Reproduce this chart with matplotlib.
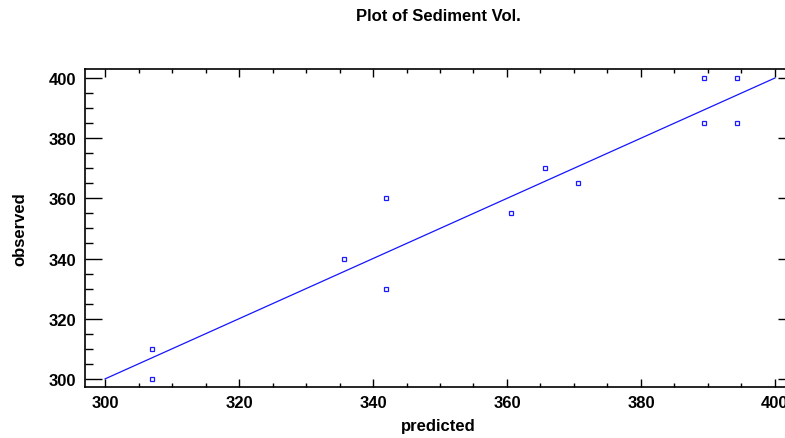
import matplotlib
matplotlib.use("Agg")
import matplotlib.pyplot as plt
from matplotlib.ticker import MultipleLocator

plt.rcParams['font.family'] = ['Liberation Sans', 'DejaVu Sans']

predicted = [307.0, 307.0, 335.7, 342.0, 342.0, 360.6, 365.7, 370.6, 389.4, 389.4, 394.4, 394.4]
observed = [310, 300, 340, 360, 330, 355, 370, 365, 400, 385, 400, 385]
line_x = [300, 400]
line_y = [300, 400]
xticks = [300, 320, 340, 360, 380, 400]
yticks = [300, 320, 340, 360, 380, 400]

W, H = 785, 439
fig = plt.figure(figsize=(W / 100, H / 100), dpi=100)
left, right, top, bottom = 85, 795, 70, 388
ax = fig.add_axes([left / W, 1 - bottom / H, (right - left) / W, (bottom - top) / H])

ax.plot(line_x, line_y, color='#1515ff', lw=0.9)
ax.plot(predicted, observed, ls='none', marker='s', ms=3.2, mfc='none', mec='#1a1aff', mew=0.9)

ax.set_xlim(297, 403)
ax.set_ylim(297.3, 403)
ax.set_xticks(xticks)
ax.set_yticks(yticks)
ax.xaxis.set_minor_locator(MultipleLocator(5))
ax.yaxis.set_minor_locator(MultipleLocator(5))

ax.tick_params(axis='x', which='major', direction='in', length=6, width=1, top=True, bottom=True,
               labelsize=12, pad=6)
ax.tick_params(axis='x', which='minor', direction='in', length=3, width=1, top=True, bottom=True)
ax.tick_params(axis='y', which='major', direction='in', length=12, width=1, left=True, right=True,
               labelsize=12, pad=6.5)
ax.tick_params(axis='y', which='minor', direction='in', length=6, width=1, left=True, right=True)
for lab in ax.get_xticklabels() + ax.get_yticklabels():
    lab.set_fontweight('bold')

for s in ax.spines.values():
    s.set_linewidth(1.2)

fig.text(438.5 / W, 1 - 431 / H, 'predicted', ha='center', va='baseline',
         fontsize=12, fontweight='bold')
fig.text(19.5 / W, 1 - 229.5 / H, 'observed', ha='center', va='center', rotation=90,
         fontsize=12, fontweight='bold')
fig.text(438.5 / W, 1 - 21 / H, 'Plot of Sediment Vol.', ha='center', va='baseline',
         fontsize=12, fontweight='bold')

fig.savefig('out.png', dpi=100)
